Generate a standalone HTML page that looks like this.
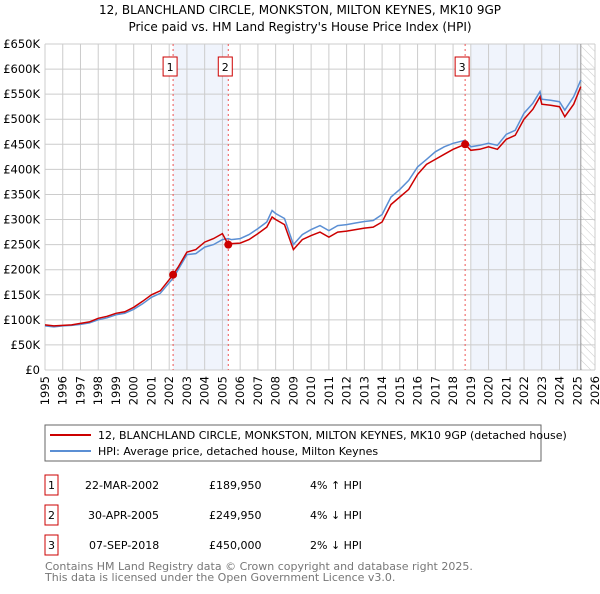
<!DOCTYPE html>
<html><head><meta charset="utf-8"><style>
body{margin:0;background:#fff;font-family:"DejaVu Sans","Liberation Sans",sans-serif;}
svg text{font-family:"DejaVu Sans","Liberation Sans",sans-serif;}
</style></head><body>
<svg id="c" width="600" height="590" viewBox="0 0 600 590">
<text x="300" y="14" text-anchor="middle" font-size="12">12, BLANCHLAND CIRCLE, MONKSTON, MILTON KEYNES, MK10 9GP</text>
<text x="300" y="31" text-anchor="middle" font-size="12">Price paid vs. HM Land Registry's House Price Index (HPI)</text>
<defs><pattern id="hatch" width="6" height="6" patternUnits="userSpaceOnUse" patternTransform="rotate(-45)"><line x1="0" y1="0" x2="0" y2="6" stroke="#ccc" stroke-width="1"/></pattern></defs>
<g id="shade"></g><g id="grid"></g><g id="axes"></g><g id="series"></g><g id="markers"></g>
<rect x="45" y="425" width="496" height="36" fill="#fff" stroke="#666"/>
<line x1="50" y1="435" x2="91" y2="435" stroke="#cc0000" stroke-width="2"/>
<text x="98" y="439" font-size="11">12, BLANCHLAND CIRCLE, MONKSTON, MILTON KEYNES, MK10 9GP (detached house)</text>
<line x1="50" y1="451" x2="91" y2="451" stroke="#5b8fd4" stroke-width="2"/>
<text x="98" y="455" font-size="11">HPI: Average price, detached house, Milton Keynes</text>
<g font-size="11">
<rect x="45" y="475" width="13" height="20" fill="#fff" stroke="#cc0000"/><text x="51.5" y="489" text-anchor="middle">1</text>
<text x="85" y="489">22-MAR-2002</text><text x="209" y="489">£189,950</text><text x="310" y="489">4% ↑ HPI</text>
<rect x="45" y="505" width="13" height="20" fill="#fff" stroke="#cc0000"/><text x="51.5" y="519" text-anchor="middle">2</text>
<text x="88" y="519">30-APR-2005</text><text x="209" y="519">£249,950</text><text x="310" y="519">4% ↓ HPI</text>
<rect x="45" y="535" width="13" height="20" fill="#fff" stroke="#cc0000"/><text x="51.5" y="549" text-anchor="middle">3</text>
<text x="89" y="549">07-SEP-2018</text><text x="209" y="549">£450,000</text><text x="310" y="549">2% ↓ HPI</text>
</g>
<text x="45" y="570" font-size="11" fill="#777">Contains HM Land Registry data © Crown copyright and database right 2025.</text>
<text x="45" y="581" font-size="11" fill="#777">This data is licensed under the Open Government Licence v3.0.</text>
</svg>
<script>
const years=[1995,1995.5,1996,1996.5,1997,1997.5,1998,1998.5,1999,1999.5,2000,2000.5,2001,2001.5,2002,2002.22,2002.5,2003,2003.5,2004,2004.5,2005,2005.33,2005.5,2006,2006.5,2007,2007.5,2007.8,2008,2008.5,2009,2009.5,2010,2010.5,2011,2011.5,2012,2012.5,2013,2013.5,2014,2014.5,2015,2015.5,2016,2016.5,2017,2017.5,2018,2018.68,2019,2019.5,2020,2020.5,2021,2021.5,2022,2022.5,2022.9,2023,2023.5,2024,2024.3,2024.8,2025.2];
const priceK=[90,88,89,90,93,96,103,107,113,116,125,137,150,158,180,190,205,235,240,255,262,272,250,252,253,260,272,285,305,300,290,240,260,268,275,265,275,277,280,283,285,295,330,345,360,390,410,420,430,440,450,438,440,445,440,460,468,500,520,545,530,528,525,505,530,565];
const hpiK=[88,86,88,89,91,94,100,104,110,113,121,132,145,153,174,183,200,230,232,245,250,260,262,260,262,270,282,295,318,312,302,250,270,280,288,278,288,290,293,296,298,310,345,360,378,405,420,435,445,452,458,445,448,452,448,470,478,512,532,555,540,538,535,518,545,578];
const sales=[[2002.22,190,"1"],[2005.33,250,"2"],[2018.68,450,"3"]];
const yTicks=[0,50,100,150,200,250,300,350,400,450,500,550,600,650];
const xTicks=[1995,1996,1997,1998,1999,2000,2001,2002,2003,2004,2005,2006,2007,2008,2009,2010,2011,2012,2013,2014,2015,2016,2017,2018,2019,2020,2021,2022,2023,2024,2025,2026];
const X0=45,X1=595,Y0=370,Y1=44;
const sx=y=>X0+(y-1995)/31*(X1-X0);
const sy=v=>Y0-v/650*(Y0-Y1);
const NS="http://www.w3.org/2000/svg";
function mk(p,t,a){const e=document.createElementNS(NS,t);for(const k in a)e.setAttribute(k,a[k]);document.getElementById(p).appendChild(e);return e;}
let r=mk('shade','rect',{x:sx(2002.22),y:Y1,width:sx(2005.33)-sx(2002.22),height:Y0-Y1,fill:'#f0f4fc'});

r=mk('shade','rect',{x:sx(2019),y:Y1,width:sx(2025.2)-sx(2019),height:Y0-Y1,fill:'#f0f4fc'});

r=mk('shade','rect',{x:sx(2025.2),y:Y1,width:X1-sx(2025.2),height:Y0-Y1,fill:'url(#hatch)'});

yTicks.forEach(v=>{let l=mk('grid','line',{x1:X0,x2:X1,y1:sy(v),y2:sy(v),stroke:'#ccc'});

let t=mk('axes','text',{x:40,y:sy(v)+4,'text-anchor':'end','font-size':'11.5'});t.textContent=v===0?'£0':'£'+v+'K';
});
xTicks.forEach(y=>{let l=mk('grid','line',{x1:sx(y),x2:sx(y),y1:Y1,y2:Y0,stroke:'#ccc'});

let t=mk('axes','text',{x:sx(y)+4,y:Y0+6,'text-anchor':'end','font-size':'11.5',transform:`rotate(-90 ${sx(y)+4} ${Y0+6})`});t.textContent=y;
});
let nl=mk('grid','line',{x1:sx(2025.2),x2:sx(2025.2),y1:Y1,y2:Y0,stroke:'#999'});

const pts=a=>years.map((y,i)=>sx(y).toFixed(1)+','+sy(a[i]).toFixed(1)).join(' ');
let h=mk('series','polyline',{points:pts(hpiK),fill:'none',stroke:'#5b8fd4','stroke-width':1.5});

let p=mk('series','polyline',{points:pts(priceK),fill:'none',stroke:'#cc0000','stroke-width':1.5});

sales.forEach(s=>{let l=mk('markers','line',{x1:sx(s[0]),x2:sx(s[0]),y1:Y1,y2:Y0,stroke:'#ee5555','stroke-dasharray':'2,3'});

let c=mk('markers','circle',{cx:sx(s[0]),cy:sy(s[1]),r:4,fill:'#cc0000'});

let b=mk('markers','rect',{x:sx(s[0])-10,y:57,width:14,height:19,fill:'#fff',stroke:'#cc0000'});

let t=mk('markers','text',{x:sx(s[0])-3,y:71,'text-anchor':'middle','font-size':'11'});t.textContent=s[2];
});
</script>
</body></html>
